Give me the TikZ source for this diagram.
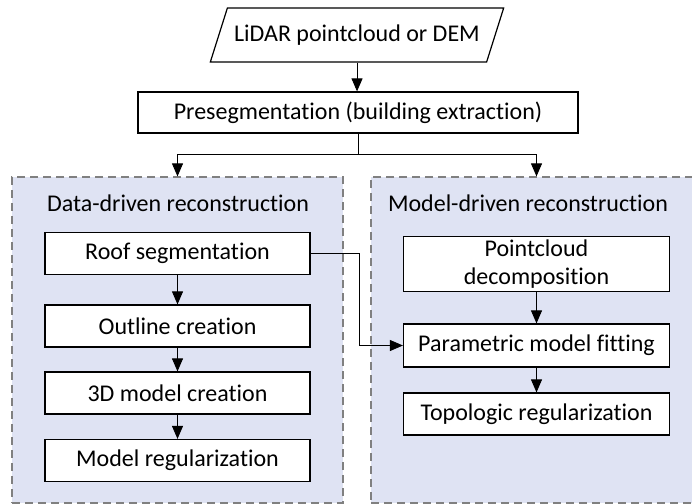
\documentclass[tikz,border=0pt]{standalone}
\usepackage{fontspec}
\setmainfont{Carlito}[Ligatures={NoCommon}]
\usepackage{tikz}
\usetikzlibrary{arrows.meta,positioning,shapes.geometric}
\definecolor{grpfill}{RGB}{223,227,243}
\definecolor{grpline}{RGB}{128,128,128}

\begin{document}
\begin{tikzpicture}[x=1pt,y=-1pt,
    font=\fontsize{24}{28}\selectfont,
    stepbox/.style={draw,line width=1.2pt,fill=white,minimum width=265pt,
      minimum height=42pt,inner sep=2pt,align=center},
    groupbox/.style={draw=grpline,fill=grpfill,line width=1.2pt,
      dash pattern=on 8pt off 5pt,minimum height=326pt},
    link/.style={line width=0.9pt},
    arrow/.style={link,-{Triangle[length=13pt,width=11pt]}}]
  \useasboundingbox (0,0) rectangle (692,503);
  % Input and presegmentation
  \node[draw,line width=1.2pt,trapezium,trapezium stretches=true,
    trapezium left angle=58.6,trapezium right angle=121.4,
    minimum width=294pt,minimum height=54pt] (src) at (357,35)
    {LiDAR pointcloud or DEM};
  \node[stepbox,minimum width=440pt,minimum height=41pt] (preseg) at (358,112.5)
    {Presegmentation (building extraction)};
  % Two reconstruction groups
  \node[groupbox,minimum width=331pt] (datagrp) at (177.5,340) {};
  \node[groupbox,minimum width=323pt] (modelgrp) at (532.5,340) {};
  \node (datatitle) at (178,203) {Data-driven reconstruction};
  \node (modeltitle) at (528,203) {Model-driven reconstruction};
  % Data-driven steps
  \node[stepbox] (roof) at (177.5,253.5) {Roof segmentation};
  \node[stepbox] (outline) at (177.5,326) {Outline creation};
  \node[stepbox] (model3d) at (177.5,393) {3D model creation};
  \node[stepbox] (modelreg) at (177.5,460.5) {Model regularization};
  % Model-driven steps
  \node[stepbox,minimum width=266pt,minimum height=55pt] (decomp) at (536.5,264)
    {Pointcloud\\decomposition};
  \node[stepbox,minimum width=266pt,minimum height=43pt] (fit) at (536.5,345.5)
    {Parametric model fitting};
  \node[stepbox,minimum width=266pt] (topo) at (536.5,414)
    {Topologic regularization};
  % Connectors
  \coordinate (fork) at (358,154);
  \coordinate (bend) at (359,253.5);
  \draw[arrow] (src.south) -- (src.south |- preseg.north);
  \draw[link] (preseg.south) -- (fork);
  \draw[arrow] (fork) -| (datagrp.north);
  \draw[arrow] (fork) -| (fit.north |- modelgrp.north);
  \draw[arrow] (roof.east) -- (bend) |- (fit.west);
  \draw[arrow] (roof) -- (outline);
  \draw[arrow] (outline) -- (model3d);
  \draw[arrow] (model3d) -- (modelreg);
  \draw[arrow] (decomp) -- (fit);
  \draw[arrow] (fit) -- (topo);
\end{tikzpicture}
\end{document}
